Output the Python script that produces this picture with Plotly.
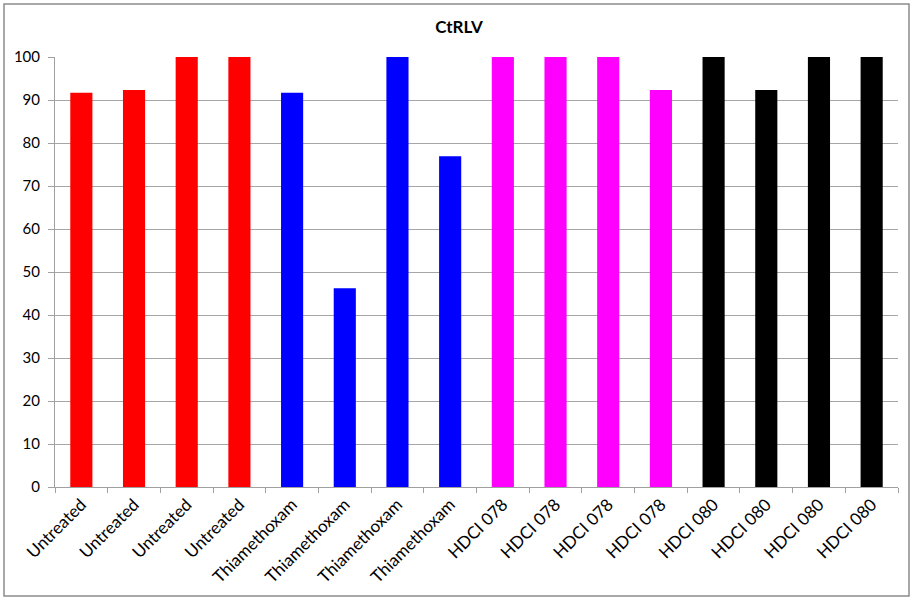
import plotly.graph_objects as go

labels = ["Untreated"] * 4 + ["Thiamethoxam"] * 4 + ["HDCI 078"] * 4 + ["HDCI 080"] * 4
values = [91.7, 92.3, 100, 100, 91.7, 46.2, 100, 76.9, 100, 100, 100, 92.3, 100, 92.3, 100, 100]
colors = ["#FF0000"] * 4 + ["#0000FF"] * 4 + ["#FF00FF"] * 4 + ["#000000"] * 4
y_ticks = list(range(0, 101, 10))

positions = list(range(len(labels)))

fig = go.Figure(go.Bar(x=positions, y=values, marker=dict(color=colors, line=dict(width=0)),
                       showlegend=False))

font_family = "Lato, 'Open Sans', sans-serif"
L, R, T, B = 55, 14, 57, 112
W, H = 912, 599
pw, ph = W - L - R, H - T - B
fig.update_layout(
    width=W, height=H,
    margin=dict(l=L, r=R, t=T, b=B, autoexpand=False),
    paper_bgcolor="white", plot_bgcolor="white",
    bargap=0.58,
    title=dict(text="<b>CtRLV</b>", x=(459 - L) / pw, xref="paper", xanchor="center",
               y=1 - 27 / H, yanchor="middle",
               font=dict(family=font_family, size=17, color="black")),
    font=dict(family=font_family, size=15, color="black"),
    xaxis=dict(
        range=[-0.5, len(labels) - 0.5],
        tickmode="array", tickvals=positions, ticktext=labels,
        tickangle=-45, ticks="", showgrid=False, zeroline=False, automargin=False,
        showline=True, linecolor="#a0a0a0", linewidth=1,
        tickfont=dict(family=font_family, size=17, color="black"),
        minor=dict(tickmode="array", tickvals=[p - 0.5 for p in positions] + [len(labels) - 0.5],
                   ticks="outside", ticklen=5, tickcolor="#a0a0a0", tickwidth=1, showgrid=False),
    ),
    yaxis=dict(
        range=[0, 100], tickmode="array", tickvals=y_ticks,
        showgrid=True, gridcolor="#a6a6a6", gridwidth=1, zeroline=False, automargin=False,
        showline=True, linecolor="#a0a0a0", linewidth=1,
        ticks="outside", ticklen=6, tickcolor="#a0a0a0", ticklabelstandoff=5,
        tickfont=dict(family=font_family, size=15, color="black"),
    ),
    shapes=[dict(type="rect", xref="paper", yref="paper",
                 x0=(4 - L) / pw, x1=(909 - L) / pw, y0=-(596 - (H - B)) / ph, y1=(H - B - 4) / ph,
                 line=dict(color="#8c8c8c", width=1.5), fillcolor="rgba(0,0,0,0)", layer="below")],
)

fig.write_html("out.html", config={"displayModeBar": False},
               post_script="document.body.style.margin='0px';")
